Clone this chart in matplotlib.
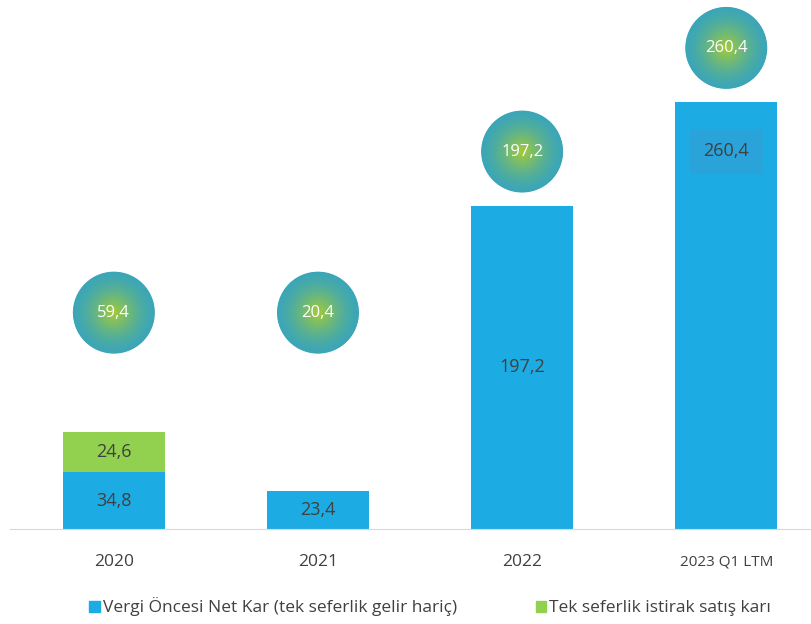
import matplotlib.pyplot as plt
from matplotlib.colors import to_rgb
from matplotlib.patches import Patch
import numpy as np

plt.rcParams["font.family"] = ["Open Sans", "DejaVu Sans"]

years = ["2020", "2021", "2022", "2023 Q1 LTM"]
net_kar = [34.8, 23.4, 197.2, 260.4]
istirak = [24.6, 0, 0, 0]
totals = ["59,4", "20,4", "197,2", "260,4"]

blue = "#1DABE3"
green = "#92D050"
edge_col = np.array(to_rgb("#3CA6B8"))
mid_col = np.array(to_rgb("#A3CB38"))

fig = plt.figure(figsize=(8.12, 6.24), dpi=100)
ax = fig.add_axes([0.012, 0.152, 0.988, 0.848])

x = np.arange(len(years))
ax.bar(x, net_kar, width=0.5, color=blue, label="Vergi Öncesi Net Kar (tek seferlik gelir hariç)")
ax.bar(x, istirak, width=0.5, bottom=net_kar, color=green, label="Tek seferlik istirak satış karı")

for i in range(len(years)):
    lbl = f"{net_kar[i]:.1f}".replace(".", ",")
    box = None
    ty = net_kar[i] / 2
    if i == 3:
        box = dict(boxstyle="square,pad=0.75", fc="#2AA2DA", ec="none")
        ty = net_kar[i] - 30
    ax.text(x[i], ty, lbl, ha="center", va="center", fontsize=13,
            color="#404040", bbox=box)
    if istirak[i] > 0:
        ax.text(x[i], net_kar[i] + istirak[i] / 2, f"{istirak[i]:.1f}".replace(".", ","),
                ha="center", va="center", fontsize=13, color="#404040")

# gradient circles with totals
for i in range(len(years)):
    top = net_kar[i] + istirak[i]
    cy = max(top + 33, 132)
    n = 90
    for k in range(n):
        t = k / (n - 1)
        w = t ** 1.5
        col = edge_col * (1 - w) + mid_col * w
        size = (59 * (1 - t) + 1 * t) ** 2
        ax.scatter(x[i], cy, s=size, color=col, edgecolors="none", zorder=3)
    ax.text(x[i], cy, totals[i], ha="center", va="center", fontsize=12,
            color="white", zorder=4)

ax.set_xlim(-0.51, 3.42)
ax.set_ylim(0, 322.6)
ax.set_yticks([])
ax.set_xticks(x, labels=years)
ax.tick_params(axis="x", length=0, pad=18, labelsize=12.5, labelcolor="#404040")
for lab in ax.get_xticklabels()[3:]:
    lab.set_fontsize(11)
for s in ["top", "right", "left"]:
    ax.spines[s].set_visible(False)
ax.spines["bottom"].set_color("#D9D9D9")

handles = [Patch(color=blue, label="Vergi Öncesi Net Kar (tek seferlik gelir hariç)"),
           Patch(color=green, label="Tek seferlik istirak satış karı")]
fig.legend(handles=handles, loc="lower center", bbox_to_anchor=(0.53, -0.013), ncol=2,
           frameon=False, fontsize=12.5, handlelength=0.6, handleheight=0.6,
           handletextpad=0.2, columnspacing=4.5, labelcolor="#404040")

fig.savefig("out.png", dpi=100)
